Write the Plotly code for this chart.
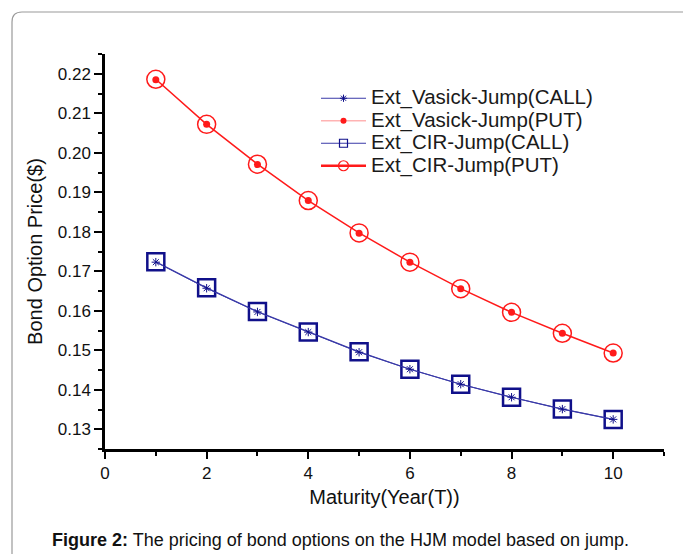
import plotly.graph_objects as go

maturity = [1, 2, 3, 4, 5, 6, 7, 8, 9, 10]
vasick_call = [0.1723, 0.1657, 0.1597, 0.1546, 0.1495, 0.1452, 0.1414, 0.1381, 0.1351, 0.1325]
vasick_put = [0.2185, 0.2072, 0.1970, 0.1879, 0.1796, 0.1723, 0.1656, 0.1596, 0.1543, 0.1493]
cir_call = [0.1724, 0.1658, 0.1598, 0.1546, 0.1496, 0.1452, 0.1414, 0.1381, 0.1351, 0.1325]
cir_put = [0.2186, 0.2072, 0.1971, 0.1879, 0.1797, 0.1723, 0.1656, 0.1596, 0.1543, 0.1493]

names = ["Ext_Vasick-Jump(CALL)", "Ext_Vasick-Jump(PUT)", "Ext_CIR-Jump(CALL)", "Ext_CIR-Jump(PUT)"]

NAVY = "#10108a"
BLUE = "#3a3aa8"
RED = "#ff1a1a"
PINK = "#ffb3b3"

fig = go.Figure()

# actual data traces (legend handled by legend-only entries for small symbols)
fig.add_trace(go.Scatter(x=maturity, y=cir_call, mode="lines+markers", showlegend=False,
                         line=dict(color=BLUE, width=1.2),
                         marker=dict(symbol="square-open", size=17, color=NAVY, line=dict(width=2.5, color=NAVY))))
fig.add_trace(go.Scatter(x=maturity, y=vasick_call, mode="lines+markers", showlegend=False,
                         line=dict(color=BLUE, width=1),
                         marker=dict(symbol="asterisk-open", size=7, color=NAVY, line=dict(width=1, color=NAVY))))
fig.add_trace(go.Scatter(x=maturity, y=cir_put, mode="lines+markers", showlegend=False,
                         line=dict(color=RED, width=1.5),
                         marker=dict(symbol="circle-open", size=18, color=RED, line=dict(width=1.5, color=RED))))
fig.add_trace(go.Scatter(x=maturity, y=vasick_put, mode="markers", showlegend=False,
                         marker=dict(symbol="circle", size=7, color=RED)))

LEG = '<span style="font-size:20.5px">{}</span>'

# legend entries
fig.add_trace(go.Scatter(x=[None], y=[None], mode="lines+markers", name=LEG.format(names[0]),
                         line=dict(color=BLUE, width=1),
                         marker=dict(symbol="asterisk-open", size=6, color=NAVY, line=dict(width=1, color=NAVY))))
fig.add_trace(go.Scatter(x=[None], y=[None], mode="lines+markers", name=LEG.format(names[1]),
                         line=dict(color=PINK, width=1.5),
                         marker=dict(symbol="circle", size=6, color=RED)))
fig.add_trace(go.Scatter(x=[None], y=[None], mode="lines+markers", name=LEG.format(names[2]),
                         line=dict(color=BLUE, width=1),
                         marker=dict(symbol="square-open", size=8, color=NAVY, line=dict(width=1.2, color=NAVY))))
fig.add_trace(go.Scatter(x=[None], y=[None], mode="lines+markers", name=LEG.format(names[3]),
                         line=dict(color=RED, width=2.5),
                         marker=dict(symbol="circle-open", size=10, color=RED, line=dict(width=1.2, color=RED))))

# frame geometry in paper units (plot area: px 105..664 x, 54..449 y)
PW, PH = 559.0, 395.0
def px(x):
    return (x - 105) / PW
def py(y):
    return (449 - y) / PH
r = 10
x0, x1, y0, y1 = 12, 700, 12, 580
path = (f"M {px(x0)},{py(y1)} L {px(x0)},{py(y0 + r)} "
        f"Q {px(x0)},{py(y0)} {px(x0 + r)},{py(y0)} "
        f"L {px(x1)},{py(y0)}")

fig.update_layout(
    width=683, height=554,
    margin=dict(l=105, r=19, t=54, b=105),
    paper_bgcolor="white", plot_bgcolor="white",
    font=dict(family="Liberation Sans, Arial, sans-serif", color="#111111"),
    shapes=[dict(type="path", path=path, xref="paper", yref="paper",
                 line=dict(color="#9a9a9a", width=1.2), layer="below")],
    legend=dict(x=px(316), y=py(82), xanchor="left", yanchor="top",
                bgcolor="rgba(0,0,0,0)", font=dict(size=15, color="#1a1a1a"),
                itemwidth=45, tracegroupgap=0),
    xaxis=dict(range=[0, 11], tick0=0, dtick=2, showgrid=False, zeroline=False,
               showline=True, linewidth=2.5, linecolor="black",
               ticks="outside", ticklen=7, tickwidth=2, tickcolor="black",
               tickfont=dict(size=17),
               minor=dict(dtick=1, ticks="outside", ticklen=4, tickwidth=2, tickcolor="black"),
               title=dict(text="Maturity(Year(T))", font=dict(size=20), standoff=8)),
    yaxis=dict(range=[0.125, 0.225], tick0=0.13, dtick=0.01, tickformat=".2f",
               showgrid=False, zeroline=False,
               showline=True, linewidth=2.5, linecolor="black",
               ticks="outside", ticklen=8, tickwidth=2, tickcolor="black",
               tickfont=dict(size=17),
               minor=dict(dtick=0.005, ticks="outside", ticklen=4, tickwidth=2, tickcolor="black"),
               title=dict(text="Bond Option Price($)", font=dict(size=20), standoff=10)),
    annotations=[dict(text="<b>Figure 2:</b> The pricing of bond options on the HJM model based on jump.",
                      xref="paper", yref="paper", x=px(340), y=py(540),
                      xanchor="center", yanchor="middle", showarrow=False,
                      font=dict(size=18, color="#111111"))],
)

fig.write_html("out.html", config={"displayModeBar": False},
               post_script="document.body.style.margin='0';document.body.style.overflow='hidden';")
